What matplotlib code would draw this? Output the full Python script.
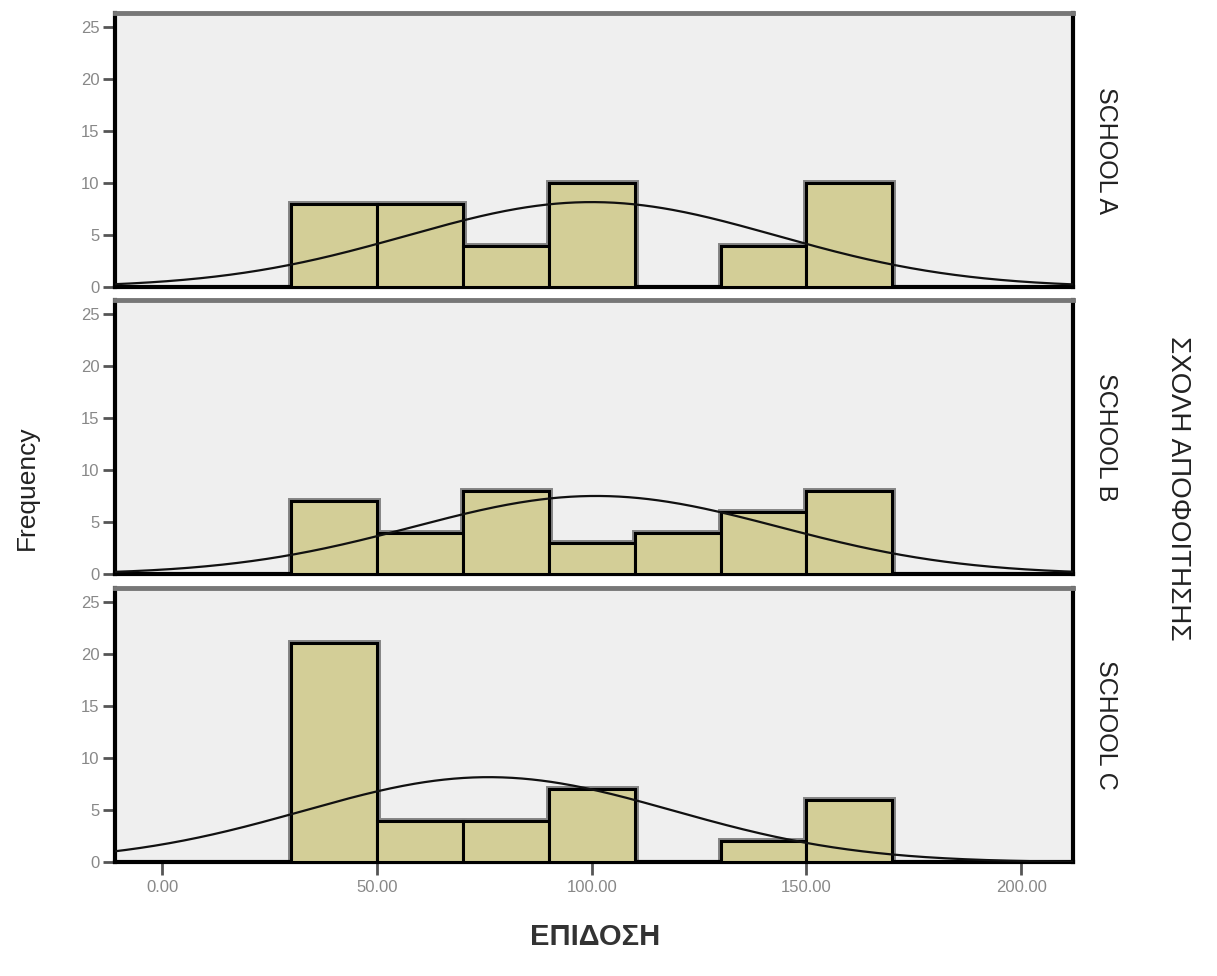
import numpy as np
import matplotlib.pyplot as plt

plt.rcParams['font.family'] = ['Liberation Sans', 'DejaVu Sans']

# histogram data (bin width 20)
bin_edges = [30, 50, 70, 90, 110, 130, 150, 170]
schools = ["SCHOOL A", "SCHOOL B", "SCHOOL C"]
counts_a = [8, 8, 4, 10, 0, 4, 10]
counts_b = [7, 4, 8, 3, 4, 6, 8]
counts_c = [21, 4, 4, 7, 0, 2, 6]
# fitted normal curves
means = [100.0, 101.0, 76.0]
sds = [43.0, 42.5, 43.0]

xticks = [0, 50, 100, 150, 200]
yticks = [0, 5, 10, 15, 20, 25]

all_counts = [counts_a, counts_b, counts_c]
bar_color = "#d3ce97"
bg = "#efefef"

fig = plt.figure(figsize=(12.17, 9.76), dpi=100)
left, width = 0.0945, 0.787
tops = [0.9867, 0.6926, 0.3975]
height = 0.281

for i, (name, counts) in enumerate(zip(schools, all_counts)):
    ax = fig.add_axes([left, tops[i] - height, width, height])
    ax.set_facecolor(bg)
    lefts = [b for b, c in zip(bin_edges[:-1], counts) if c > 0]
    vals = [c for c in counts if c > 0]
    # gray halo then black edges
    ax.bar(lefts, vals, width=20, align="edge", color=bar_color,
           edgecolor="#858585", linewidth=5, zorder=2)
    ax.bar(lefts, vals, width=20, align="edge", color=bar_color,
           edgecolor="black", linewidth=2.2, zorder=3)
    n = sum(counts)
    xs = np.linspace(-12, 214, 400)
    ys = n * 20 / (sds[i] * np.sqrt(2 * np.pi)) * np.exp(-(xs - means[i]) ** 2 / (2 * sds[i] ** 2))
    ax.plot(xs, ys, color="#111111", linewidth=1.6, zorder=4)
    ax.set_xlim(-11, 212)
    ax.set_ylim(0, 26.3)
    ax.set_yticks(yticks)
    ax.set_xticks(xticks)
    ax.tick_params(axis="y", length=9, width=2, color="#555555", labelsize=12,
                   labelcolor="#888888", pad=2)
    if i == 2:
        ax.set_xticklabels([f"{t:.2f}" for t in xticks])
        ax.tick_params(axis="x", length=9, width=2, color="#555555", labelsize=12,
                       labelcolor="#888888", pad=4)
    else:
        ax.tick_params(axis="x", length=0, labelbottom=False)
    for s in ["left", "right", "bottom"]:
        ax.spines[s].set_linewidth(3)
        ax.spines[s].set_color("black")
    ax.spines["top"].set_linewidth(3.5)
    ax.spines["top"].set_color("#777777")
    ax.text(1.022, 0.5, name, transform=ax.transAxes, rotation=-90,
            ha="left", va="center", fontsize=18, color="#222222")

fig.text(0.022, 0.5, "Frequency", rotation=90, ha="center", va="center",
         fontsize=19, color="#222222")
fig.text(0.489, 0.04, "ΕΠΙΔΟΣΗ", ha="center", va="center",
         fontsize=21, fontweight="bold", color="#333333")
fig.text(0.968, 0.5, "ΣΧΟΛΗ ΑΠΟΦΟΙΤΗΣΗΣ", rotation=-90, ha="center", va="center",
         fontsize=20, color="#222222")

fig.savefig("out.png", dpi=100)
